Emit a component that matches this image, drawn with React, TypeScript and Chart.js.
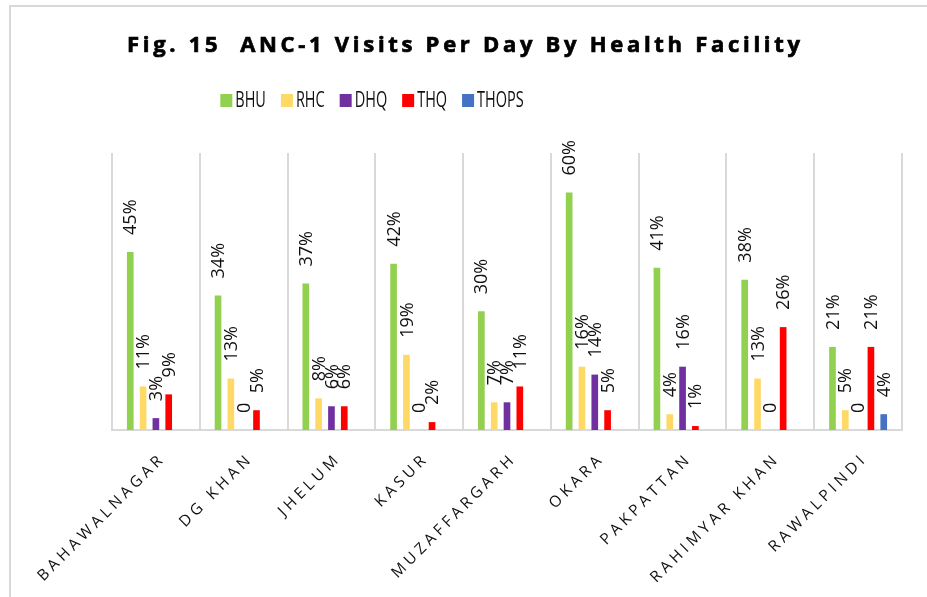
import React, { useEffect, useRef } from "react";
import { Chart, registerables } from "chart.js";

Chart.register(...registerables);

const titleText = "Fig. 15  ANC-1 Visits Per Day By Health Facility";
const categories = [
  "BAHAWALNAGAR",
  "DG KHAN",
  "JHELUM",
  "KASUR",
  "MUZAFFARGARH",
  "OKARA",
  "PAKPATTAN",
  "RAHIMYAR KHAN",
  "RAWALPINDI",
];
const seriesNames = ["BHU", "RHC", "DHQ", "THQ", "THOPS"];
const bhu = [45, 34, 37, 42, 30, 60, 41, 38, 21];
const rhc = [11, 13, 8, 19, 7, 16, 4, 13, 5];
const dhq = [3, 0, 6, 0, 7, 14, 16, 0, 0];
const thq = [9, 5, 6, 2, 11, 5, 1, 26, 21];
const thops = [null, null, null, null, null, null, null, null, 4];
const seriesColors = ["#92D050", "#FFD966", "#7030A0", "#FF0000", "#4472C4"];
const yMax = 70;

const W = 927;
const H = 597;

const customDraw = {
  id: "customDraw",
  beforeDraw(chart: any) {
    const ctx = chart.ctx;
    ctx.save();
    ctx.fillStyle = "#ffffff";
    ctx.fillRect(0, 0, W, H);
    ctx.strokeStyle = "#d9d9d9";
    ctx.lineWidth = 2;
    ctx.beginPath();
    ctx.moveTo(10, H + 5);
    ctx.lineTo(10, 6);
    ctx.lineTo(W + 5, 6);
    ctx.stroke();
    ctx.restore();
  },
  afterDraw(chart: any) {
    const ctx = chart.ctx;
    // Title
    ctx.save();
    ctx.font = 'bold 22px "Open Sans", sans-serif';
    ctx.fillStyle = "#000000";
    ctx.strokeStyle = "#000000";
    ctx.lineWidth = 0.7;
    ctx.textBaseline = "alphabetic";
    ctx.textAlign = "left";
    const targetW = 673;
    const baseW = ctx.measureText(titleText).width;
    const ls = Math.max(0, (targetW - baseW) / (titleText.length - 1));
    (ctx as any).letterSpacing = ls + "px";
    ctx.fillText(titleText, 463.5 - targetW / 2, 52);
    ctx.strokeText(titleText, 463.5 - targetW / 2, 52);
    ctx.restore();

    // Legend
    ctx.save();
    ctx.font = '21px "Open Sans", sans-serif';
    ctx.textBaseline = "alphabetic";
    ctx.textAlign = "left";
    const sx = 0.69;
    const widths = seriesNames.map((n) => ctx.measureText(n).width * sx);
    const boxW = 12;
    const gapBox = 3;
    const gapItem = 15;
    let total = 0;
    widths.forEach((w, i) => {
      total += boxW + gapBox + w + (i < widths.length - 1 ? gapItem : 0);
    });
    let x = 372 - total / 2;
    seriesNames.forEach((n, i) => {
      ctx.fillStyle = seriesColors[i];
      ctx.fillRect(x, 94, boxW, 13);
      ctx.fillStyle = "#111111";
      ctx.save();
      ctx.translate(x + boxW + gapBox, 107);
      ctx.scale(sx, 1);
      ctx.fillText(n, 0, 0);
      ctx.restore();
      x += boxW + gapBox + widths[i] + gapItem;
    });
    ctx.restore();

    // Data labels
    ctx.save();
    ctx.font = '18px "Open Sans", sans-serif';
    ctx.fillStyle = "#111111";
    ctx.textAlign = "left";
    ctx.textBaseline = "middle";
    chart.data.datasets.forEach((ds: any, di: number) => {
      const meta = chart.getDatasetMeta(di);
      meta.data.forEach((el: any, i: number) => {
        const v = ds.data[i];
        if (v === null || v === undefined) return;
        const label = v === 0 ? "0" : v + "%";
        ctx.save();
        ctx.translate(el.x + 1, el.y - 17);
        ctx.rotate(-Math.PI / 2);
        ctx.fillText(label, 0, 0);
        ctx.restore();
      });
    });
    ctx.restore();

    // Category labels
    ctx.save();
    ctx.font = '15.5px "Open Sans", sans-serif';
    (ctx as any).letterSpacing = "4px";
    ctx.fillStyle = "#111111";
    ctx.textAlign = "right";
    ctx.textBaseline = "middle";
    const xs = chart.scales.x;
    categories.forEach((c, i) => {
      const cx = xs.getPixelForValue(i);
      ctx.save();
      ctx.translate(cx + 7, 456);
      ctx.rotate(-Math.PI / 4);
      ctx.fillText(c, 0, 0);
      ctx.restore();
    });
    ctx.restore();
  },
};

export default function App() {
  const ref = useRef<HTMLCanvasElement | null>(null);
  useEffect(() => {
    if (!ref.current) return;
    const data = [bhu, rhc, dhq, thq, thops];
    const chart = new Chart(ref.current, {
      type: "bar",
      data: {
        labels: categories,
        datasets: seriesNames.map((n, i) => ({
          label: n,
          data: data[i] as any,
          backgroundColor: seriesColors[i],
          borderWidth: 0,
          categoryPercentage: 0.73,
          barPercentage: 0.52,
        })),
      },
      options: {
        responsive: false,
        animation: false,
        devicePixelRatio: 1,
        layout: { padding: { left: 112, top: 153, right: 25, bottom: 167 } },
        plugins: {
          legend: { display: false },
          title: { display: false },
          tooltip: { enabled: false },
        },
        scales: {
          x: {
            grid: {
              display: true,
              color: "#d9d9d9",
              lineWidth: 2,
              offset: true,
              drawTicks: false,
            },
            border: { display: true, color: "#d9d9d9", width: 2 },
            ticks: { display: false },
          },
          y: {
            display: false,
            min: 0,
            max: yMax,
          },
        },
      },
      plugins: [customDraw],
    });
    return () => chart.destroy();
  }, []);
  return (
    <div style={{ position: "fixed", left: 0, top: 0, width: W, height: H }}>
      <canvas ref={ref} width={W} height={H} style={{ width: W, height: H, display: "block" }} />
    </div>
  );
}
